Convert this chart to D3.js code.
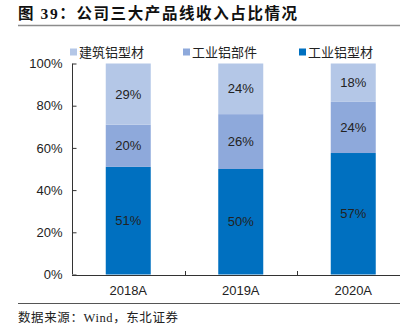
<!DOCTYPE html>
<html>
<head>
<meta charset="utf-8">
<script src="https://cdn.jsdelivr.net/npm/d3@7"></script>
<style>
  body { margin: 0; background: #fff; }
  svg { display: block; }
</style>
</head>
<body>
<svg id="chart" width="409" height="332"></svg>
<script>
// 公司三大产品线收入占比
const years = ["2018A", "2019A", "2020A"];
const seriesNames = ["工业铝型材", "工业铝部件", "建筑铝型材"];
const profile = [51, 50, 57];     // 工业铝型材
const parts = [20, 26, 24];       // 工业铝部件
const building = [29, 24, 18];    // 建筑铝型材
const yTicks = [0, 0.2, 0.4, 0.6, 0.8, 1];

const colors = {
  "工业铝型材": "#0070C0",
  "工业铝部件": "#8EA9DB",
  "建筑铝型材": "#B4C7E7"
};

const rows = years.map((y, i) => ({
  year: y,
  "工业铝型材": profile[i],
  "工业铝部件": parts[i],
  "建筑铝型材": building[i]
}));

const svg = d3.select("#chart");
const cjk = "'Noto Sans CJK SC', 'Liberation Sans', sans-serif";

// title + rules
svg.append("text")
  .attr("x", 18).attr("y", 19)
  .attr("font-family", "'Liberation Serif', 'Noto Sans CJK SC', serif")
  .attr("font-weight", "bold")
  .attr("font-size", 15.5)
  .attr("letter-spacing", 1.6)
  .attr("fill", "#111")
  .text("图 39：公司三大产品线收入占比情况");

svg.append("line")
  .attr("x1", 18).attr("x2", 400).attr("y1", 25.5).attr("y2", 25.5)
  .attr("stroke", "#8c8c8c").attr("stroke-width", 1.5);

svg.append("line")
  .attr("x1", 18).attr("x2", 400).attr("y1", 303.5).attr("y2", 303.5)
  .attr("stroke", "#555").attr("stroke-width", 1);

svg.append("text")
  .attr("x", 18).attr("y", 322)
  .attr("font-family", "'Liberation Serif', 'Noto Sans CJK SC', serif")
  .attr("font-size", 12.5)
  .attr("letter-spacing", 0.6)
  .attr("fill", "#222")
  .text("数据来源：Wind，东北证券");

// scales
const x = d3.scaleBand().domain(years).range([72, 409.5]).paddingInner(0.6).paddingOuter(0.3);
const y = d3.scaleLinear().domain([0, 1]).range([274.5, 63.5]);

const stack = d3.stack().keys(seriesNames).offset(d3.stackOffsetExpand);
const layers = stack(rows);

const g = svg.append("g");

layers.forEach(layer => {
  const key = layer.key;
  g.selectAll(null)
    .data(layer)
    .enter()
    .append("rect")
    .attr("x", d => x(d.data.year))
    .attr("width", x.bandwidth())
    .attr("y", d => y(d[1]))
    .attr("height", d => y(d[0]) - y(d[1]))
    .attr("fill", colors[key]);

  g.selectAll(null)
    .data(layer)
    .enter()
    .append("text")
    .attr("x", d => x(d.data.year) + x.bandwidth() / 2)
    .attr("y", d => (y(d[0]) + y(d[1])) / 2)
    .attr("dy", "0.35em")
    .attr("text-anchor", "middle")
    .attr("font-family", "'Liberation Sans', Arial, sans-serif")
    .attr("font-size", 13)
    .attr("fill", "#222")
    .text(d => d.data[key] + "%");
});

// y axis
const yAxis = d3.axisLeft(y)
  .tickValues(yTicks)
  .tickFormat(d3.format(".0%"))
  .tickSize(-4)
  .tickPadding(10);

const ya = svg.append("g")
  .attr("transform", "translate(72.5,0)")
  .call(yAxis);
ya.select(".domain").attr("stroke", "#333").attr("d", "M0,63.5V274.5");
ya.selectAll(".tick line").attr("stroke", "#333");
ya.selectAll(".tick text")
  .attr("font-family", "'Liberation Sans', Arial, sans-serif")
  .attr("font-size", 13)
  .attr("fill", "#222");

// x axis
const xAxis = d3.axisBottom(x).tickSize(0).tickPadding(11);
const xa = svg.append("g")
  .attr("transform", "translate(0,275)")
  .call(xAxis);
xa.select(".domain").attr("stroke", "#333").attr("d", "M72,0.5H400");
xa.selectAll(".tick text")
  .attr("font-family", "'Liberation Sans', Arial, sans-serif")
  .attr("font-size", 13)
  .attr("fill", "#222");

// tick marks between categories
xa.selectAll(".sep")
  .data(years.slice(1))
  .enter()
  .append("line")
  .attr("class", "sep")
  .attr("x1", d => Math.round(x(d) - x.step() * x.paddingInner() / 2) + 0.5)
  .attr("x2", d => Math.round(x(d) - x.step() * x.paddingInner() / 2) + 0.5)
  .attr("y1", 0).attr("y2", -4)
  .attr("stroke", "#333");

// legend
const legendItems = ["建筑铝型材", "工业铝部件", "工业铝型材"];
const legendX = [70, 183, 299];
const lg = svg.selectAll(".lg")
  .data(legendItems)
  .enter()
  .append("g")
  .attr("class", "lg")
  .attr("transform", (d, i) => `translate(${legendX[i]},52)`);
lg.append("rect")
  .attr("x", 0).attr("y", -3.5)
  .attr("width", 7).attr("height", 7)
  .attr("fill", d => colors[d]);
lg.append("text")
  .attr("x", 9).attr("y", 0)
  .attr("dy", "0.35em")
  .attr("font-family", cjk)
  .attr("font-size", 13)
  .attr("fill", "#222")
  .text(d => d);
</script>
</body>
</html>
